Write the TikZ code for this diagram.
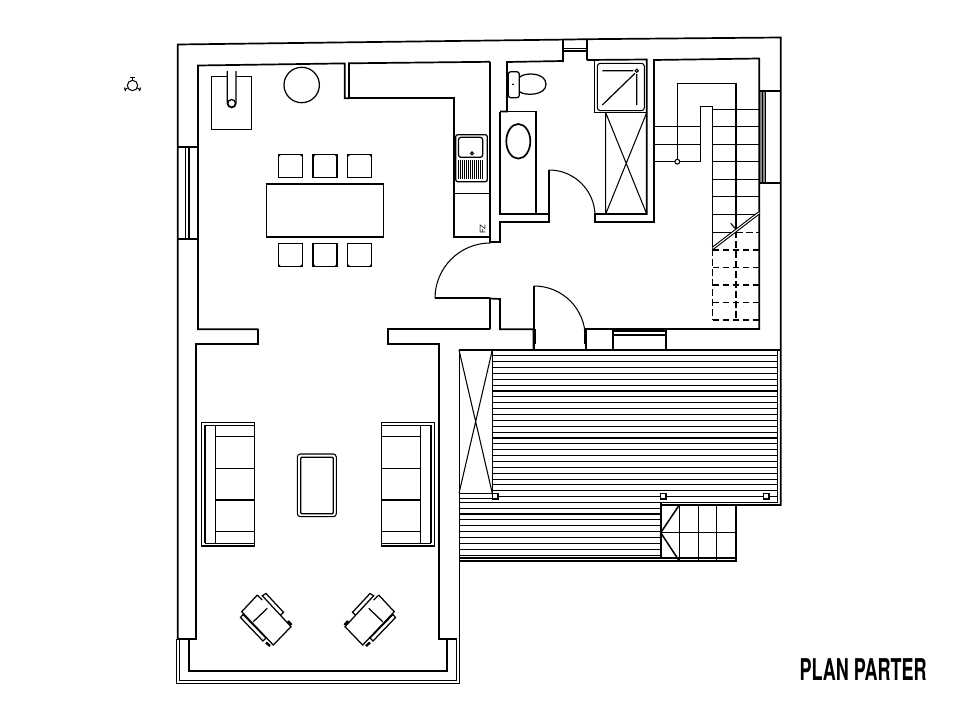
\documentclass[tikz,border=0pt]{standalone}
\usepackage{fontspec}
\setmainfont{TeX Gyre Heros}
\tikzset{
  wall/.style={line width=1.7pt,line join=miter},
  thin/.style={line width=1.05pt},
  hatch/.style={line width=1.1pt},
  furn/.style={line width=1.25pt},
  dashedline/.style={line width=1.5pt,dash pattern=on 6.5pt off 3.5pt},
  tread/.style={line width=1.5pt},
}
\begin{document}
\begin{tikzpicture}[x=1pt,y=-1pt]
\useasboundingbox (0,0) rectangle (960,720);
% compass
\draw[line width=1pt] (132.5,85.5) circle (5.2);
\draw[line width=1pt] (132.5,80) -- (132.5,77.5) (130,77.5) -- (135,77.5);
\draw[line width=1pt] (127.5,88) -- (124.5,90) (124.5,87.5) -- (125.5,91);
\draw[line width=1pt] (137.5,88) -- (140.5,90) (140.5,87.5) -- (139.5,91);
% outer walls
\draw[wall] (177.7,639) -- (177.7,44.5) -- (563,39.6) (587,39.2) -- (780.7,37.5) -- (780.7,505) -- (660.7,505);
\draw[wall] (563,39.6) -- (587,39.2) (563,39.6) -- (563,62) (587,39.2) -- (587,60);
\draw[thin] (563,48.5) -- (587,48.5) (563,51) -- (587,51);
% left window
\draw[wall] (177.7,147) -- (198,147) (177.7,239.3) -- (198,239.3);
\draw[thin] (185.7,147) -- (185.7,239.3) (189,147) -- (189,239.3);
% right window
\fill[black!45] (759.5,91) rectangle (765.5,183.3);
\draw[thin] (762.3,91) -- (762.3,183.3) (765.7,91) -- (765.7,183.3);
\draw[wall] (759.3,91) -- (780.7,91) (759.3,183.3) -- (780.7,183.3);
% dining / kitchen walls
\draw[wall] (490,329.3) -- (388.3,329.3) -- (388.3,344) -- (439.3,344) -- (439.3,639) -- (457.3,639);
\draw[wall] (258.3,329.3) -- (197.9,329.3) -- (197.9,65.5) -- (344.7,63.4) -- (344.7,98.3) -- (349,98.3) -- (349,63.3) -- (490,61.8);
\draw[wall] (258.3,329.3) -- (258.3,344) -- (196,344) -- (196,639) -- (177.3,639);
\draw[wall] (490,61.8) -- (490,242) -- (500,242) -- (500,222) -- (549,222) -- (549,170);
\draw[wall] (500,111.5) -- (500,214) -- (549,214);
\draw[wall] (500,111.5) -- (507,111.5) -- (507,62) -- (563,61) (587,60) -- (646.7,59.5) -- (646.7,214) -- (595,214) -- (595,222) -- (654,222) -- (654,60) -- (759.3,58.5) -- (759.3,329) -- (665.7,329);
\draw[thin] (549,170) arc[start angle=-90,end angle=0,radius=46];
% entry walls and doors
\draw[wall] (490,298.5) -- (490,329.3) (490,298.5) -- (500,299) -- (500,329.3) -- (533.5,329.3) -- (533.5,350);
\draw[wall] (534.2,286) -- (534.2,350);
\draw[thin] (534.2,286) arc[start angle=-90,end angle=0,radius=51];
\draw[wall] (435,298.3) -- (490,298.3);
\draw[thin] (435,298.3) arc[start angle=180,end angle=270,radius=55.3];
\draw[wall] (586,350) -- (586,329) -- (613,329) -- (613,350) (665.7,329) -- (665.7,350);
\draw[line width=2pt] (534.5,329) -- (534.5,344) (585.2,330) -- (585.2,344);
\draw[wall] (613,329) -- (665.7,329);
\draw[thin] (613,331) -- (665.7,331) (613,335) -- (665.7,335);
% bottom of living room
\draw[wall] (459,350) -- (780.7,350);
\draw[line width=1.25pt] (459.2,350) -- (459.2,683.6) -- (176.8,683.6) -- (176.8,639);
\draw[line width=1.25pt] (179.6,639) -- (179.6,680.6) -- (456.4,680.6) -- (456.4,639);
\draw[wall] (189,639) -- (189,671) -- (446.7,671) -- (446.7,639);
% kitchen
\draw[wall] (349,98.3) -- (454.3,98.3) -- (454.3,236.8) -- (490,236.8);
\draw[thin] (454.3,193.3) -- (490,193.3);
\draw[furn,rounded corners=2pt] (455.7,134.7) rectangle (487.3,181.7);
\draw[furn,rounded corners=2.5pt] (458.5,137.3) rectangle (482.7,157.3);
\draw[thin] (472,153.3) circle (1.5);
\foreach \i in {0,...,12} \draw[line width=0.95pt] ({458.6+2*\i},160) -- ({458.6+2*\i},179);
\node (fz) [rotate=90,font=\fontsize{7.5}{7.5}\selectfont] at (482.6,229) {FZ};
% stove
\draw[furn] (211.7,76.7) rectangle (251.7,129.7);
\draw[furn,fill=white] (227.3,71) -- (227.3,103.3) arc[start angle=180,end angle=0,radius=4.35] -- (236,71);
\draw[furn,fill=white] (231.65,103.3) circle (3.8);
\draw[furn] (301.7,85) circle (17.7);
% dining table
\draw[furn] (266.7,184) rectangle (383.7,237);
\foreach \x in {278.3,313,347.7}{
  \draw[furn] (\x,154.6) rectangle ({\x+24},177.7);
  \draw[line width=1.7pt] (\x,154.6) -- ({\x+24},154.6);
  \fill ({\x+1},155.5) circle (1) ({\x+23},155.5) circle (1);
  \draw[furn] (\x,243.3) rectangle ({\x+24},266.4);
  \draw[line width=1.7pt] (\x,266.4) -- ({\x+24},266.4);
  \fill ({\x+1},265.5) circle (1) ({\x+23},265.5) circle (1);
}
% bathroom
\draw[furn,rounded corners=2.5pt,fill=white] (508.3,71.7) rectangle (519.3,97.7);
\draw[furn] (519.3,77.5) .. controls (524,72) and (546,72) .. (546,84.3) .. controls (546,96) and (524,96) .. (519.3,91.5);
\fill (513,84.3) circle (1);
\draw[thin] (500,111.7) -- (536,111.7) -- (536,214);
\draw[line width=1.7pt] (518.3,141.3) ellipse [x radius=12,y radius=17.3];
\draw[thin] (594.3,60) -- (594.3,112.7) -- (646.7,112.7);
\draw[thin,rounded corners=3pt] (597.3,63.3) rectangle (644.3,110.7);
\draw[line width=1.2pt] (602.3,70.7) -- (633.3,70.7) (636.7,74) -- (636.7,105) (602.3,105) -- (635,73.3);
\draw[thin] (636.7,70.7) circle (1.6);
\draw[thin] (605.7,112.7) -- (605.7,214) (605.7,112.7) -- (646.7,214) (646.7,112.7) -- (605.7,214);
% stairs
\foreach \y in {126.7,144.3,161.7} \draw[tread] (654,\y) -- (700.7,\y);
\foreach \y in {109.3,126.7,144.3,161.7,179.3,196.7,214.3} \draw[tread] (712.7,\y) -- (759.3,\y);
\draw[tread] (712.7,232.3) -- (736,232.3);
\draw[tread] (700.7,161.7) -- (700.7,106.7) -- (712.7,106.7) -- (712.7,249.3);
\draw[tread] (677.3,161.7) -- (677.3,83.3) -- (736,83.3) -- (736,229);
\draw[thin,fill=white] (677.3,161.7) circle (2.4);
\draw[dashedline] (736,232.3) -- (759.3,232.3);
\foreach \y in {250,267.3,285,302.7,320} \draw[dashedline] (712.7,\y) -- (759.3,\y);
\draw[dashedline] (712.7,249.3) -- (712.7,320);
\draw[dashedline] (736,231) -- (736,320);
\draw[line width=3.2pt] (712.7,248.3) -- (759.3,212.7);
\draw[white,line width=1pt] (712.7,248.3) -- (759.3,212.7);
\draw[line width=1.1pt] (730.7,223.3) -- (736,229.3);
% terrace
\draw[thin] (459,350) -- (492.3,350) (492.3,350) -- (492.3,497);
\draw[thin] (459,350) -- (492.3,493.3) (492.3,350) -- (459,493.3);
\draw[thin] (459,493.3) -- (492.3,493.3) (459,498.3) -- (492.3,498.3);
\foreach \i in {0,...,24} \draw[hatch] (492.3,{355.8+5.87*\i}) -- (777.7,{355.8+5.87*\i});
\draw[hatch] (459,502.3) -- (777.7,502.3);
\foreach \i in {1,...,9} \draw[hatch] (459,{502.3+5.87*\i}) -- (660.7,{502.3+5.87*\i});
\draw[hatch] (777.7,350) -- (777.7,503);
\draw[wall] (660.7,502.3) -- (660.7,558);
\draw[wall] (459,561) -- (735.7,561) -- (735.7,505);
\draw[thin] (459,558) -- (735.7,558);
\foreach \x in {679.3,698.3,716.7} \draw[tread] (\x,505) -- (\x,561);
\draw[tread] (660.7,532.7) -- (735.7,532.7);
\draw[tread] (679.3,505) -- (660.7,532.7) -- (679.3,561);
\foreach \x in {495.3,663.3,766} \draw[line width=1.6pt,fill=white] ({\x-2.7},493.6) rectangle ({\x+2.7},499);
% sofas
\draw[furn] (201.7,422.7) rectangle (254.7,546);
\draw[thin] (205,425.3) -- (205,543.3) (205,425.3) -- (254.7,425.3) (205,543.3) -- (254.7,543.3);
\draw[thin] (215.3,425.3) -- (215.3,543.3);
\foreach \y in {436.7,468.3,500,531.7} \draw[thin] (215.3,\y) -- (254.7,\y);
\draw[furn] (381.3,422.7) rectangle (434.3,546);
\draw[thin] (431,425.3) -- (431,543.3) (381.3,425.3) -- (431,425.3) (381.3,543.3) -- (431,543.3);
\draw[thin] (420.3,425.3) -- (420.3,543.3);
\foreach \y in {436.7,468.3,500,531.7} \draw[thin] (381.3,\y) -- (420.3,\y);
\draw[thin,rounded corners=3pt] (297.3,454) rectangle (336.3,516.7);
\draw[furn,rounded corners=1pt] (300.7,457.3) rectangle (333.3,513.7);
% armchairs
\foreach \sx/\dx in {1/0,-1/636}{
\begin{scope}[shift={(\dx,0)},xscale=\sx]
  \draw[furn,fill=white] (262.3,595.7) -- (266,593.5) -- (283.5,612.3) -- (280.5,615.3) -- cycle;
  \draw[furn,fill=white] (243,614.5) -- (240.5,617.5) -- (263,641) -- (266,638) -- cycle;
  \draw[furn] (257.3,595) -- (241.7,611.7) -- (273.3,645) -- (291,626.7) -- (280.5,615.3);
  \draw[furn] (257.3,595) -- (262.3,600);
  \draw[furn] (267.3,608.3) -- (253.3,621.7);
  \draw[line width=2.4pt] (288,621) -- (291.5,625);
  \draw[line width=2.4pt] (266,642.5) -- (270,646);
\end{scope}
}
% title
\node (title) [anchor=west,xscale=0.6,font=\fontsize{30}{30}\selectfont\bfseries,inner sep=0pt] at (799.5,669.7) {PLAN PARTER};
\end{tikzpicture}
\end{document}
